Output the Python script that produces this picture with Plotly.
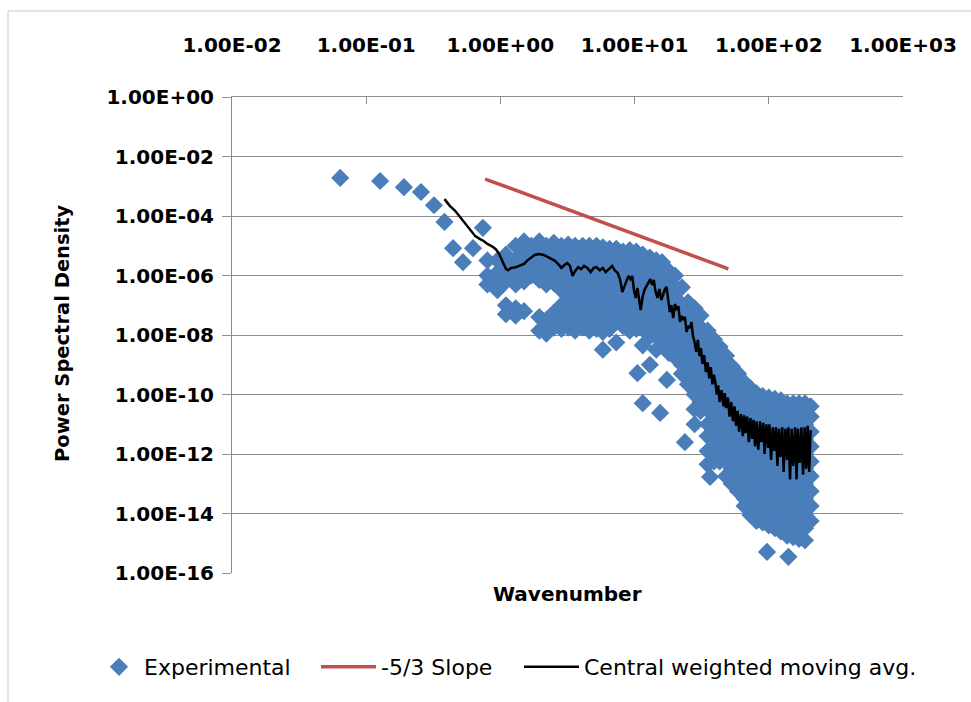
import plotly.graph_objects as go

# ---------------- data ----------------
# isolated experimental points
iso_k = [0.064, 0.127, 0.191, 0.256, 0.32, 0.383, 0.444, 0.526, 0.625, 0.741,
         10.5, 11.5, 17.4, 15.5, 23.7, 36.5, 97, 140]
iso_psd = [1.9e-3, 1.5e-3, 9.3e-4, 6.4e-4, 2.3e-4, 6.3e-5, 8.3e-6, 2.8e-6, 8.3e-6, 4.0e-5,
           5.2e-10, 5.1e-11, 3.1e-10, 2.4e-11, 2.5e-12, 1.7e-13, 5.1e-16, 3.5e-16]

# dense experimental cloud, grouped by wavenumber
cloud_k = [0.8, 0.95, 1.1, 1.3, 1.5, 1.7, 1.95, 2.2, 2.5, 2.85,
           3.2, 3.6, 4.1, 4.6, 5.2, 5.8, 6.5, 7.3, 8.2, 9.2,
           10.3, 11.5, 13, 14.5, 16, 18, 20, 22.5, 25, 28,
           31, 35, 39, 43, 48, 53, 59, 66, 73, 81,
           90, 100, 111, 123, 137, 152, 168, 186, 205]
cloud_psd = [
    [3.2e-6, 1.0e-6, 5.0e-7],
    [3.2e-6, 1.26e-6, 5.6e-7, 3.2e-7],
    [5.0e-6, 1.8e-6, 6.3e-7, 1.0e-7, 5.0e-8],
    [1.0e-5, 3.2e-6, 1.0e-6, 5.0e-7, 7.9e-8, 4.5e-8],
    [1.4e-5, 5.6e-6, 1.8e-6, 6.3e-7, 6.3e-8],
    [1.0e-5, 3.2e-6, 1.0e-6],
    [1.4e-5, 5.6e-6, 1.8e-6, 7.1e-7, 4.0e-8, 1.4e-8],
    [1.0e-5, 3.2e-6, 1.0e-6, 5.0e-7, 3.2e-8, 1.1e-8],
    [1.26e-5, 5.6e-6, 1.8e-6, 5.6e-7, 5.6e-8, 1.8e-8],
    [1.0e-5, 3.2e-6, 1.0e-6, 3.2e-7, 1.0e-7, 3.2e-8, 1.6e-8],
    [1.1e-5, 5.6e-6, 1.8e-6, 5.6e-7, 1.8e-7, 5.6e-8, 1.8e-8],
    [1.0e-5, 3.2e-6, 1.0e-6, 3.2e-7, 1.0e-7, 3.2e-8, 1.4e-8],
    [1.0e-5, 5.6e-6, 1.8e-6, 5.6e-7, 1.8e-7, 5.6e-8, 1.8e-8],
    [1.0e-5, 3.2e-6, 1.0e-6, 3.2e-7, 1.0e-7, 3.2e-8, 1.4e-8],
    [1.0e-5, 5.6e-6, 1.8e-6, 5.6e-7, 1.8e-7, 5.6e-8, 1.6e-8],
    [8.9e-6, 3.2e-6, 1.0e-6, 3.2e-7, 1.0e-7, 3.2e-8, 1.26e-8, 3.2e-9],
    [7.9e-6, 3.5e-6, 1.8e-6, 5.6e-7, 1.8e-7, 5.6e-8, 1.6e-8],
    [7.9e-6, 3.2e-6, 1.0e-6, 3.2e-7, 1.0e-7, 3.2e-8, 5.6e-9],
    [6.3e-6, 3.5e-6, 1.8e-6, 5.6e-7, 1.8e-7, 5.6e-8, 2.0e-8],
    [7.1e-6, 3.2e-6, 1.0e-6, 3.2e-7, 1.0e-7, 3.2e-8, 1.4e-8],
    [6.3e-6, 3.5e-6, 1.8e-6, 5.6e-7, 1.8e-7, 5.6e-8, 1.6e-8],
    [5.0e-6, 2.2e-6, 1.0e-6, 3.2e-7, 1.0e-7, 3.2e-8, 1.6e-8, 4.5e-9],
    [4.0e-6, 1.8e-6, 5.6e-7, 1.8e-7, 5.6e-8, 1.8e-8, 8.9e-9, 1.0e-9],
    [3.2e-6, 1.0e-6, 3.2e-7, 1.0e-7, 3.2e-8, 1.0e-8, 3.2e-9],
    [2.8e-6, 1.26e-6, 5.6e-7, 1.8e-7, 5.6e-8, 1.8e-8, 5.6e-9],
    [1.4e-6, 6.3e-7, 3.2e-7, 1.0e-7, 3.2e-8, 1.0e-8, 2.5e-9],
    [1.0e-6, 4.0e-7, 1.8e-7, 5.6e-8, 1.8e-8, 5.6e-9, 1.8e-9],
    [4.0e-7, 1.0e-7, 3.2e-8, 1.0e-8, 3.2e-9, 1.0e-9, 5.0e-10],
    [1.26e-7, 5.6e-8, 1.8e-8, 5.6e-9, 1.8e-9, 5.6e-10, 2.2e-10],
    [7.9e-8, 3.2e-8, 1.0e-8, 3.2e-9, 1.0e-9, 3.2e-10, 1.0e-10, 3.2e-11, 1.0e-11],
    [4.5e-8, 1.8e-8, 5.6e-9, 1.8e-9, 5.6e-10, 1.8e-10, 5.6e-11, 2.8e-11],
    [1.4e-8, 6.3e-9, 3.2e-9, 1.0e-9, 3.2e-10, 1.0e-10, 3.2e-11, 1.0e-11, 4.0e-12, 1.26e-12, 4.5e-13],
    [7.1e-9, 1.8e-9, 5.6e-10, 1.8e-10, 5.6e-11, 1.8e-11, 5.6e-12, 1.8e-12, 5.6e-13],
    [4.0e-9, 1.0e-9, 3.2e-10, 1.0e-10, 3.2e-11, 1.0e-11, 3.2e-12, 1.0e-12, 5.6e-13],
    [2.0e-9, 5.6e-10, 1.8e-10, 5.6e-11, 1.8e-11, 5.6e-12, 1.8e-12, 5.6e-13, 1.8e-13],
    [8.9e-10, 3.2e-10, 1.0e-10, 3.2e-11, 1.0e-11, 3.2e-12, 1.0e-12, 3.2e-13, 1.0e-13],
    [5.0e-10, 1.8e-10, 5.6e-11, 1.8e-11, 5.6e-12, 1.8e-12, 5.6e-13, 1.8e-13, 5.6e-14],
    [2.5e-10, 1.0e-10, 3.2e-11, 1.0e-11, 3.2e-12, 1.0e-12, 3.2e-13, 1.0e-13, 3.2e-14, 1.8e-14],
    [1.6e-10, 5.6e-11, 1.8e-11, 5.6e-12, 1.8e-12, 5.6e-13, 1.8e-13, 5.6e-14, 1.8e-14, 8.9e-15],
    [1.1e-10, 3.2e-11, 1.0e-11, 3.2e-12, 1.0e-12, 3.2e-13, 1.0e-13, 3.2e-14, 1.0e-14, 5.6e-15],
    [8.9e-11, 4.0e-11, 1.8e-11, 5.6e-12, 1.8e-12, 5.6e-13, 1.8e-13, 5.6e-14, 1.8e-14, 5.0e-15],
    [7.9e-11, 3.2e-11, 1.0e-11, 3.2e-12, 1.0e-12, 3.2e-13, 1.0e-13, 3.2e-14, 1.0e-14, 4.0e-15],
    [7.1e-11, 3.5e-11, 1.8e-11, 5.6e-12, 1.8e-12, 5.6e-13, 1.8e-13, 5.6e-14, 1.8e-14, 5.6e-15, 3.2e-15],
    [6.3e-11, 3.2e-11, 1.0e-11, 3.2e-12, 1.0e-12, 3.2e-13, 1.0e-13, 3.2e-14, 1.0e-14, 2.5e-15],
    [5.0e-11, 1.8e-11, 5.6e-12, 1.8e-12, 5.6e-13, 1.8e-13, 5.6e-14, 1.8e-14, 5.6e-15, 1.8e-15],
    [5.0e-11, 2.2e-11, 1.0e-11, 3.2e-12, 1.0e-12, 3.2e-13, 1.0e-13, 3.2e-14, 1.0e-14, 3.2e-15, 1.6e-15],
    [5.0e-11, 1.8e-11, 5.6e-12, 1.8e-12, 5.6e-13, 1.8e-13, 5.6e-14, 1.8e-14, 5.6e-15, 1.4e-15],
    [5.0e-11, 2.2e-11, 1.0e-11, 3.2e-12, 1.0e-12, 3.2e-13, 1.0e-13, 3.2e-14, 1.0e-14, 3.2e-15, 1.26e-15],
    [4.0e-11, 1.8e-11, 5.6e-12, 1.8e-12, 5.6e-13, 1.8e-13, 5.6e-14, 1.8e-14, 5.6e-15],
]

# -5/3 slope reference line
slope_k = [0.77, 50]
slope_psd = [1.75e-3, 1.67e-6]

# central weighted moving average
mavg_k = [0.383, 0.42, 0.46, 0.5, 0.55, 0.6, 0.65, 0.7, 0.75, 0.8,
          0.86, 0.92, 0.97, 1.02, 1.06, 1.1, 1.14, 1.2, 1.3, 1.4,
          1.5, 1.6, 1.7, 1.8, 1.95, 2.1, 2.25, 2.4, 2.55, 2.7,
          2.85, 3.0, 3.15, 3.3, 3.45, 3.6, 3.8, 4.0, 4.2, 4.45,
          4.7, 4.95, 5.2, 5.5, 5.8, 6.1, 6.4, 6.8, 7.1, 7.5,
          7.8, 8.1, 8.4, 8.7, 9.0, 9.3, 9.6, 9.9, 10.2, 10.5,
          10.8, 11.1, 11.5, 11.9, 12.3, 12.7, 13.1, 13.5, 13.9, 14.3,
          14.8, 15.3, 15.8, 16.3, 16.8, 17.3, 17.8, 18.3, 18.8, 19.4,
          20, 20.6, 21.2, 21.8, 22.4, 23, 23.7, 24.4, 25.1, 25.8,
          26.5, 27.2, 28, 28.8, 29.6, 30.4, 31.2, 32, 33, 34,
          35, 36, 37, 38, 39, 40, 41, 42, 43, 44.5,
          46, 47, 48, 49.5, 51, 52.5, 54, 55.5, 57, 58.5,
          60, 62, 64, 65.5, 67, 69, 71, 73, 75, 77,
          79, 81, 83.5, 86, 88, 91, 93, 96, 99, 101,
          104, 107, 110, 113, 116, 119, 122, 126, 129, 133,
          137, 140, 144, 148, 152, 157, 161, 165, 170, 175,
          180, 185, 190, 195, 200, 205]
mavg_psd = [3.7e-4, 2.2e-4, 1.5e-4, 9.3e-5, 5.0e-5, 3.2e-5, 2.1e-5, 1.7e-5, 1.45e-5, 1.15e-5,
            9.8e-6, 7.8e-6, 5.7e-6, 3.5e-6, 2.2e-6, 1.66e-6, 1.5e-6, 1.8e-6, 1.9e-6, 2.1e-6,
            2.45e-6, 3.3e-6, 4.2e-6, 4.9e-6, 5.3e-6, 4.9e-6, 4.2e-6, 3.6e-6, 3.1e-6, 2.4e-6,
            1.8e-6, 2.25e-6, 2.6e-6, 2.1e-6, 9.6e-7, 1.4e-6, 1.9e-6, 1.65e-6, 2.1e-6, 1.8e-6,
            1.3e-6, 1.8e-6, 1.9e-6, 1.5e-6, 1.8e-6, 1.3e-6, 1.65e-6, 2.1e-6, 1.5e-6, 1.2e-6,
            7.1e-7, 2.8e-7, 4.3e-7, 7.1e-7, 9.6e-7, 7.6e-7, 9.6e-7, 3.2e-7, 1.75e-7, 3.8e-7,
            1.5e-7, 6.9e-8, 2.0e-7, 3.5e-7, 4.5e-7, 6.0e-7, 7.6e-7, 4.8e-7, 7.1e-7, 3.0e-7,
            1.75e-7, 3.5e-7, 1.5e-7, 2.2e-7, 3.5e-7, 4.1e-7, 1.5e-7, 5.9e-8, 1.0e-7, 3.7e-8,
            1.1e-7, 6.9e-8, 9.3e-8, 2.75e-8, 4.4e-8, 3.2e-8, 4.1e-8, 1.26e-8, 2.0e-8, 1.7e-8,
            2.75e-8, 9.3e-9, 5.8e-9, 2.7e-9, 6.8e-9, 1.95e-9, 3.6e-9, 1.07e-9, 2.1e-9, 5.7e-10,
            1.2e-9, 3.5e-10, 8.3e-10, 2.2e-10, 4.6e-10, 2.5e-10, 1.0e-10, 2.0e-10, 5.6e-11, 1.4e-10,
            4.0e-11, 1.12e-10, 3.5e-11, 7.9e-11, 1.8e-11, 5.6e-11, 1.26e-11, 4.0e-11, 8.9e-12, 2.8e-11,
            5.6e-12, 2.2e-11, 4.0e-12, 2.0e-11, 5.0e-12, 1.8e-11, 2.5e-12, 1.6e-11, 3.2e-12, 1.4e-11,
            1.8e-12, 1.26e-11, 1.4e-12, 1.26e-11, 2.5e-12, 1.12e-11, 1.0e-12, 1.0e-11, 1.6e-12, 1.0e-11,
            6.3e-13, 7.9e-12, 1.26e-12, 7.9e-12, 4.0e-13, 7.1e-12, 7.9e-13, 7.9e-12, 2.5e-13, 7.1e-12,
            6.3e-13, 7.9e-12, 1.4e-13, 7.1e-12, 4.0e-13, 7.9e-12, 1.4e-13, 7.1e-12, 5.0e-13, 7.9e-12,
            2.0e-13, 7.9e-12, 3.2e-13, 8.9e-12, 2.5e-13, 6.3e-12]

x_tickvals = [1e-2, 1e-1, 1e0, 1e1, 1e2, 1e3]
x_ticktext = ["1.00E-02", "1.00E-01", "1.00E+00", "1.00E+01", "1.00E+02", "1.00E+03"]
y_tickvals = [1e0, 1e-2, 1e-4, 1e-6, 1e-8, 1e-10, 1e-12, 1e-14, 1e-16]
y_ticktext = ["1.00E+00", "1.00E-02", "1.00E-04", "1.00E-06", "1.00E-08",
              "1.00E-10", "1.00E-12", "1.00E-14", "1.00E-16"]

# ---------------- build ----------------
exp_k = list(iso_k)
exp_psd = list(iso_psd)
for kk, vals in zip(cloud_k, cloud_psd):
    for v in vals:
        exp_k.append(kk)
        exp_psd.append(v)

BLUE = "#4A7EBB"
RED = "#C0504D"
GRID = "#8C8C8C"
FONT = "DejaVu Sans"

fig = go.Figure()
fig.add_trace(go.Scatter(
    x=exp_k, y=exp_psd, mode="markers", name="Experimental", legend="legend",
    marker=dict(symbol="diamond", size=14, color=BLUE, line=dict(width=0)),
))
fig.add_trace(go.Scatter(
    x=slope_k, y=slope_psd, mode="lines", name="-5/3 Slope", legend="legend2",
    line=dict(color=RED, width=3.5),
))
fig.add_trace(go.Scatter(
    x=mavg_k, y=mavg_psd, mode="lines", name="Central weighted moving avg.", legend="legend3",
    line=dict(color="black", width=2.5),
))

L, R, T, B = 232, 68, 97, 129
W, H = 971, 702
pw, ph = W - L - R, H - T - B


def px(x):
    return (x - L) / pw


def py(y):
    return (H - B - y) / ph


def leg(xpix, iw):
    return dict(
        orientation="h", x=px(xpix), xanchor="left", y=py(667), yanchor="middle",
        font=dict(family=FONT, size=22, color="black"),
        bgcolor="rgba(0,0,0,0)", itemwidth=iw,
    )


fig.update_layout(
    width=W, height=H,
    margin=dict(l=L, r=R, t=T, b=B, pad=0),
    paper_bgcolor="white", plot_bgcolor="white",
    font=dict(family=FONT, color="black"),
    showlegend=True,
    legend=leg(94, 40),
    legend2=leg(316, 55),
    legend3=leg(519, 55),
    xaxis=dict(
        type="log", range=[-2, 3], side="top",
        tickvals=x_tickvals, ticktext=x_ticktext,
        tickfont=dict(family=FONT, size=20, weight="bold", color="black"),
        ticks="inside", ticklen=7, tickcolor=GRID,
        showline=True, linecolor=GRID, linewidth=1,
        showgrid=False, zeroline=False, ticklabelstandoff=36,
    ),
    yaxis=dict(
        type="log", range=[-16, 0],
        tickvals=y_tickvals, ticktext=y_ticktext,
        tickfont=dict(family=FONT, size=20, weight="bold", color="black"),
        ticks="outside", ticklen=9, tickcolor=GRID,
        showline=True, linecolor=GRID, linewidth=1,
        showgrid=True, gridcolor=GRID, gridwidth=1, zeroline=False,
        ticklabelstandoff=4,
    ),
    annotations=[
        dict(text="<b>Wavenumber</b>", xref="paper", yref="paper",
             x=0.5, y=py(594), xanchor="center", yanchor="middle",
             showarrow=False, font=dict(family=FONT, size=20)),
        dict(text="<b>Power Spectral Density</b>", xref="paper", yref="paper",
             x=px(62), y=py(333), xanchor="center", yanchor="middle", textangle=-90,
             showarrow=False, font=dict(family=FONT, size=19.5)),
    ],
    shapes=[
        dict(type="line", xref="paper", yref="paper", x0=px(8), x1=px(971),
             y0=py(11), y1=py(11), line=dict(color="#C8C8C8", width=1)),
        dict(type="line", xref="paper", yref="paper", x0=px(8), x1=px(8),
             y0=py(11), y1=py(702), line=dict(color="#C8C8C8", width=1)),
    ],
)

fig.write_html("out.html")
